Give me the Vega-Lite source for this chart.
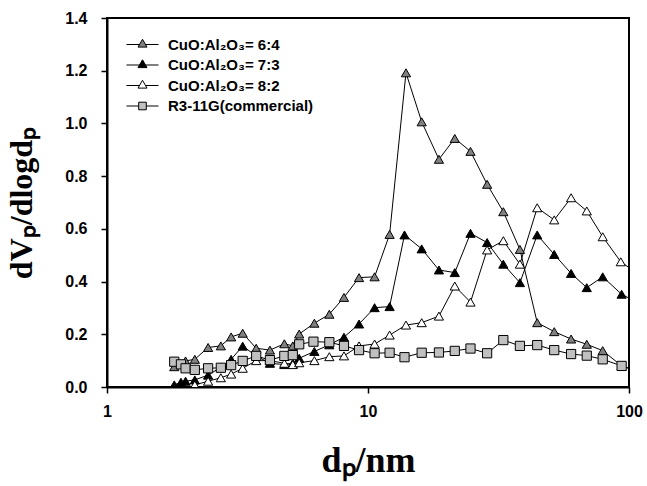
{
  "$schema": "https://vega.github.io/schema/vega-lite/v6.json",
  "width": 522,
  "height": 369,
  "autosize": {"type": "none"},
  "padding": {"left": 107, "top": 18, "right": 18, "bottom": 99},
  "background": "white",
  "config": {
    "view": {"stroke": "black", "strokeWidth": 2},
    "axis": {
      "grid": false,
      "domainColor": "black",
      "domainWidth": 2,
      "tickColor": "black",
      "tickWidth": 1.5,
      "tickSize": 6,
      "labelFont": "Liberation Sans",
      "labelFontWeight": "bold",
      "labelFontSize": 16,
      "labelColor": "black",
      "titleFont": "Liberation Serif",
      "titleFontWeight": "bold",
      "titleFontSize": 32,
      "titleColor": "black",
      "labelOverlap": false,
      "labelFlush": false,
      "labelBound": false
    },
    "legend": {
      "orient": "none",
      "legendX": 28,
      "legendY": 19,
      "title": null,
      "padding": 0,
      "symbolSize": 64,
      "symbolStrokeWidth": 1,
      "labelFont": "Liberation Sans",
      "labelFontWeight": "bold",
      "labelFontSize": 15,
      "labelColor": "black",
      "labelOffset": 18,
      "rowPadding": 4.5,
      "labelLimit": 300
    }
  },
  "data": {
    "values": [
      {"s": "CuO:Al₂O₃= 6:4", "x": 1.81, "y": 0.077},
      {"s": "CuO:Al₂O₃= 6:4", "x": 2.0, "y": 0.099},
      {"s": "CuO:Al₂O₃= 6:4", "x": 2.17, "y": 0.105},
      {"s": "CuO:Al₂O₃= 6:4", "x": 2.44, "y": 0.150},
      {"s": "CuO:Al₂O₃= 6:4", "x": 2.73, "y": 0.156},
      {"s": "CuO:Al₂O₃= 6:4", "x": 2.99, "y": 0.190},
      {"s": "CuO:Al₂O₃= 6:4", "x": 3.31, "y": 0.204},
      {"s": "CuO:Al₂O₃= 6:4", "x": 3.73, "y": 0.147},
      {"s": "CuO:Al₂O₃= 6:4", "x": 4.21, "y": 0.140},
      {"s": "CuO:Al₂O₃= 6:4", "x": 4.78, "y": 0.164},
      {"s": "CuO:Al₂O₃= 6:4", "x": 5.15, "y": 0.156},
      {"s": "CuO:Al₂O₃= 6:4", "x": 5.45, "y": 0.201},
      {"s": "CuO:Al₂O₃= 6:4", "x": 6.23, "y": 0.242},
      {"s": "CuO:Al₂O₃= 6:4", "x": 7.11, "y": 0.276},
      {"s": "CuO:Al₂O₃= 6:4", "x": 8.09, "y": 0.340},
      {"s": "CuO:Al₂O₃= 6:4", "x": 9.24, "y": 0.415},
      {"s": "CuO:Al₂O₃= 6:4", "x": 10.6, "y": 0.418},
      {"s": "CuO:Al₂O₃= 6:4", "x": 12.1, "y": 0.579},
      {"s": "CuO:Al₂O₃= 6:4", "x": 13.98, "y": 1.192},
      {"s": "CuO:Al₂O₃= 6:4", "x": 16.06, "y": 1.006},
      {"s": "CuO:Al₂O₃= 6:4", "x": 18.7, "y": 0.864},
      {"s": "CuO:Al₂O₃= 6:4", "x": 21.5, "y": 0.943},
      {"s": "CuO:Al₂O₃= 6:4", "x": 24.7, "y": 0.894},
      {"s": "CuO:Al₂O₃= 6:4", "x": 28.6, "y": 0.769},
      {"s": "CuO:Al₂O₃= 6:4", "x": 33.0, "y": 0.665},
      {"s": "CuO:Al₂O₃= 6:4", "x": 38.2, "y": 0.522},
      {"s": "CuO:Al₂O₃= 6:4", "x": 44.5, "y": 0.244},
      {"s": "CuO:Al₂O₃= 6:4", "x": 51.7, "y": 0.210},
      {"s": "CuO:Al₂O₃= 6:4", "x": 60, "y": 0.182},
      {"s": "CuO:Al₂O₃= 6:4", "x": 68.9, "y": 0.162},
      {"s": "CuO:Al₂O₃= 6:4", "x": 79.3, "y": 0.138},
      {"s": "CuO:Al₂O₃= 6:4", "x": 93.7, "y": 0.080},
      {"s": "CuO:Al₂O₃= 6:4", "x": 108, "y": 0.060},

      {"s": "CuO:Al₂O₃= 7:3", "x": 1.81, "y": 0.008},
      {"s": "CuO:Al₂O₃= 7:3", "x": 1.92, "y": 0.018},
      {"s": "CuO:Al₂O₃= 7:3", "x": 2.0, "y": 0.022},
      {"s": "CuO:Al₂O₃= 7:3", "x": 2.17, "y": 0.027},
      {"s": "CuO:Al₂O₃= 7:3", "x": 2.44, "y": 0.045},
      {"s": "CuO:Al₂O₃= 7:3", "x": 2.73, "y": 0.075},
      {"s": "CuO:Al₂O₃= 7:3", "x": 2.99, "y": 0.105},
      {"s": "CuO:Al₂O₃= 7:3", "x": 3.31, "y": 0.155},
      {"s": "CuO:Al₂O₃= 7:3", "x": 3.73, "y": 0.118},
      {"s": "CuO:Al₂O₃= 7:3", "x": 4.21, "y": 0.090},
      {"s": "CuO:Al₂O₃= 7:3", "x": 4.78, "y": 0.085},
      {"s": "CuO:Al₂O₃= 7:3", "x": 5.15, "y": 0.090},
      {"s": "CuO:Al₂O₃= 7:3", "x": 5.45, "y": 0.109},
      {"s": "CuO:Al₂O₃= 7:3", "x": 6.23, "y": 0.135},
      {"s": "CuO:Al₂O₃= 7:3", "x": 7.11, "y": 0.160},
      {"s": "CuO:Al₂O₃= 7:3", "x": 8.09, "y": 0.189},
      {"s": "CuO:Al₂O₃= 7:3", "x": 9.24, "y": 0.239},
      {"s": "CuO:Al₂O₃= 7:3", "x": 10.6, "y": 0.301},
      {"s": "CuO:Al₂O₃= 7:3", "x": 12.1, "y": 0.305},
      {"s": "CuO:Al₂O₃= 7:3", "x": 13.8, "y": 0.577},
      {"s": "CuO:Al₂O₃= 7:3", "x": 16.06, "y": 0.524},
      {"s": "CuO:Al₂O₃= 7:3", "x": 18.7, "y": 0.444},
      {"s": "CuO:Al₂O₃= 7:3", "x": 21.5, "y": 0.434},
      {"s": "CuO:Al₂O₃= 7:3", "x": 24.7, "y": 0.583},
      {"s": "CuO:Al₂O₃= 7:3", "x": 28.6, "y": 0.548},
      {"s": "CuO:Al₂O₃= 7:3", "x": 33.0, "y": 0.466},
      {"s": "CuO:Al₂O₃= 7:3", "x": 38.2, "y": 0.396},
      {"s": "CuO:Al₂O₃= 7:3", "x": 44.5, "y": 0.577},
      {"s": "CuO:Al₂O₃= 7:3", "x": 51.7, "y": 0.503},
      {"s": "CuO:Al₂O₃= 7:3", "x": 60, "y": 0.431},
      {"s": "CuO:Al₂O₃= 7:3", "x": 68.9, "y": 0.377},
      {"s": "CuO:Al₂O₃= 7:3", "x": 79.3, "y": 0.418},
      {"s": "CuO:Al₂O₃= 7:3", "x": 93.7, "y": 0.352},
      {"s": "CuO:Al₂O₃= 7:3", "x": 108, "y": 0.320},

      {"s": "CuO:Al₂O₃= 8:2", "x": 2.17, "y": 0.008},
      {"s": "CuO:Al₂O₃= 8:2", "x": 2.44, "y": 0.022},
      {"s": "CuO:Al₂O₃= 8:2", "x": 2.73, "y": 0.035},
      {"s": "CuO:Al₂O₃= 8:2", "x": 2.99, "y": 0.049},
      {"s": "CuO:Al₂O₃= 8:2", "x": 3.31, "y": 0.071},
      {"s": "CuO:Al₂O₃= 8:2", "x": 3.73, "y": 0.100},
      {"s": "CuO:Al₂O₃= 8:2", "x": 4.21, "y": 0.100},
      {"s": "CuO:Al₂O₃= 8:2", "x": 4.78, "y": 0.090},
      {"s": "CuO:Al₂O₃= 8:2", "x": 5.15, "y": 0.085},
      {"s": "CuO:Al₂O₃= 8:2", "x": 5.45, "y": 0.092},
      {"s": "CuO:Al₂O₃= 8:2", "x": 6.23, "y": 0.100},
      {"s": "CuO:Al₂O₃= 8:2", "x": 7.11, "y": 0.115},
      {"s": "CuO:Al₂O₃= 8:2", "x": 8.09, "y": 0.118},
      {"s": "CuO:Al₂O₃= 8:2", "x": 9.24, "y": 0.156},
      {"s": "CuO:Al₂O₃= 8:2", "x": 10.6, "y": 0.163},
      {"s": "CuO:Al₂O₃= 8:2", "x": 12.1, "y": 0.197},
      {"s": "CuO:Al₂O₃= 8:2", "x": 13.98, "y": 0.235},
      {"s": "CuO:Al₂O₃= 8:2", "x": 16.06, "y": 0.244},
      {"s": "CuO:Al₂O₃= 8:2", "x": 18.7, "y": 0.269},
      {"s": "CuO:Al₂O₃= 8:2", "x": 21.5, "y": 0.383},
      {"s": "CuO:Al₂O₃= 8:2", "x": 24.7, "y": 0.322},
      {"s": "CuO:Al₂O₃= 8:2", "x": 28.6, "y": 0.520},
      {"s": "CuO:Al₂O₃= 8:2", "x": 33.0, "y": 0.555},
      {"s": "CuO:Al₂O₃= 8:2", "x": 38.2, "y": 0.466},
      {"s": "CuO:Al₂O₃= 8:2", "x": 44.5, "y": 0.680},
      {"s": "CuO:Al₂O₃= 8:2", "x": 51.7, "y": 0.634},
      {"s": "CuO:Al₂O₃= 8:2", "x": 60, "y": 0.718},
      {"s": "CuO:Al₂O₃= 8:2", "x": 68.9, "y": 0.668},
      {"s": "CuO:Al₂O₃= 8:2", "x": 79.3, "y": 0.570},
      {"s": "CuO:Al₂O₃= 8:2", "x": 93.0, "y": 0.475},
      {"s": "CuO:Al₂O₃= 8:2", "x": 108, "y": 0.430},

      {"s": "R3-11G(commercial)", "x": 1.81, "y": 0.096},
      {"s": "R3-11G(commercial)", "x": 1.92, "y": 0.086},
      {"s": "R3-11G(commercial)", "x": 2.0, "y": 0.071},
      {"s": "R3-11G(commercial)", "x": 2.17, "y": 0.065},
      {"s": "R3-11G(commercial)", "x": 2.44, "y": 0.071},
      {"s": "R3-11G(commercial)", "x": 2.73, "y": 0.073},
      {"s": "R3-11G(commercial)", "x": 2.99, "y": 0.083},
      {"s": "R3-11G(commercial)", "x": 3.31, "y": 0.099},
      {"s": "R3-11G(commercial)", "x": 3.73, "y": 0.118},
      {"s": "R3-11G(commercial)", "x": 4.21, "y": 0.102},
      {"s": "R3-11G(commercial)", "x": 4.78, "y": 0.118},
      {"s": "R3-11G(commercial)", "x": 5.15, "y": 0.121},
      {"s": "R3-11G(commercial)", "x": 5.45, "y": 0.162},
      {"s": "R3-11G(commercial)", "x": 6.18, "y": 0.172},
      {"s": "R3-11G(commercial)", "x": 7.11, "y": 0.170},
      {"s": "R3-11G(commercial)", "x": 8.09, "y": 0.156},
      {"s": "R3-11G(commercial)", "x": 9.24, "y": 0.140},
      {"s": "R3-11G(commercial)", "x": 10.6, "y": 0.128},
      {"s": "R3-11G(commercial)", "x": 12.1, "y": 0.130},
      {"s": "R3-11G(commercial)", "x": 13.8, "y": 0.113},
      {"s": "R3-11G(commercial)", "x": 16.06, "y": 0.130},
      {"s": "R3-11G(commercial)", "x": 18.7, "y": 0.131},
      {"s": "R3-11G(commercial)", "x": 21.5, "y": 0.137},
      {"s": "R3-11G(commercial)", "x": 24.7, "y": 0.146},
      {"s": "R3-11G(commercial)", "x": 28.6, "y": 0.128},
      {"s": "R3-11G(commercial)", "x": 33.0, "y": 0.178},
      {"s": "R3-11G(commercial)", "x": 38.2, "y": 0.156},
      {"s": "R3-11G(commercial)", "x": 44.5, "y": 0.159},
      {"s": "R3-11G(commercial)", "x": 51.7, "y": 0.140},
      {"s": "R3-11G(commercial)", "x": 60, "y": 0.125},
      {"s": "R3-11G(commercial)", "x": 68.9, "y": 0.119},
      {"s": "R3-11G(commercial)", "x": 79.3, "y": 0.105},
      {"s": "R3-11G(commercial)", "x": 93.7, "y": 0.080},
      {"s": "R3-11G(commercial)", "x": 108, "y": 0.060}
    ]
  },
  "encoding": {
    "x": {
      "field": "x",
      "type": "quantitative",
      "scale": {"type": "log", "domain": [1, 100], "nice": false},
      "axis": {"values": [1, 10, 100], "format": "d", "title": "dₚ/nm", "titleFontSize": 36, "labelPadding": 10, "titlePadding": 24}
    },
    "y": {
      "field": "y",
      "type": "quantitative",
      "scale": {"domain": [0, 1.4], "nice": false, "zero": false},
      "axis": {"values": [0, 0.2, 0.4, 0.6, 0.8, 1.0, 1.2, 1.4], "format": ".1f", "title": "dVₚ/dlogdₚ", "labelPadding": 14, "titlePadding": 26}
    }
  },
  "resolve": {
    "scale": {"shape": "independent", "fill": "independent", "stroke": "independent"},
    "legend": {"shape": "independent", "fill": "independent", "stroke": "independent"}
  },
  "layer": [
    {
      "mark": {"type": "line", "color": "black", "strokeWidth": 1, "clip": true},
      "encoding": {"detail": {"field": "s"}}
    },
    {
      "mark": {"type": "point", "filled": true, "stroke": "black", "strokeWidth": 1, "opacity": 1, "size": 85, "clip": true},
      "encoding": {
        "shape": {
          "field": "s",
          "type": "nominal",
          "scale": {
            "domain": ["CuO:Al₂O₃= 6:4", "CuO:Al₂O₃= 7:3", "CuO:Al₂O₃= 8:2", "R3-11G(commercial)"],
            "range": ["triangle-up", "triangle-up", "triangle-up", "square"]
          },
          "legend": null
        },
        "fill": {
          "field": "s",
          "type": "nominal",
          "scale": {
            "domain": ["CuO:Al₂O₃= 6:4", "CuO:Al₂O₃= 7:3", "CuO:Al₂O₃= 8:2", "R3-11G(commercial)"],
            "range": ["#808080", "#000000", "#ffffff", "#c0c0c0"]
          },
          "legend": null
        }
      }
    },
    {
      "transform": [{"filter": "datum.x > 100000"}],
      "mark": {"type": "point", "filled": true, "opacity": 1, "size": 64, "strokeWidth": 1},
      "encoding": {
        "stroke": {
          "field": "s",
          "type": "nominal",
          "scale": {
            "domain": ["CuO:Al₂O₃= 6:4", "CuO:Al₂O₃= 7:3", "CuO:Al₂O₃= 8:2", "R3-11G(commercial)"],
            "range": ["#000000", "#000000", "#000000", "#000000"]
          }
        },
        "shape": {
          "field": "s",
          "type": "nominal",
          "scale": {
            "domain": ["CuO:Al₂O₃= 6:4", "CuO:Al₂O₃= 7:3", "CuO:Al₂O₃= 8:2", "R3-11G(commercial)"],
            "range": [
              "M-4,0L-0.75,0M0.75,0L4,0M0,-1.3L1.125,0.65L-1.125,0.65Z",
              "M-4,0L-0.75,0M0.75,0L4,0M0,-1.3L1.125,0.65L-1.125,0.65Z",
              "M-4,0L-0.75,0M0.75,0L4,0M0,-1.3L1.125,0.65L-1.125,0.65Z",
              "M-4,0L-0.95,0M0.95,0L4,0M-0.95,-0.95L0.95,-0.95L0.95,0.95L-0.95,0.95Z"
            ]
          }
        },
        "fill": {
          "field": "s",
          "type": "nominal",
          "scale": {
            "domain": ["CuO:Al₂O₃= 6:4", "CuO:Al₂O₃= 7:3", "CuO:Al₂O₃= 8:2", "R3-11G(commercial)"],
            "range": ["#808080", "#000000", "#ffffff", "#c0c0c0"]
          }
        }
      }
    }
  ]
}
